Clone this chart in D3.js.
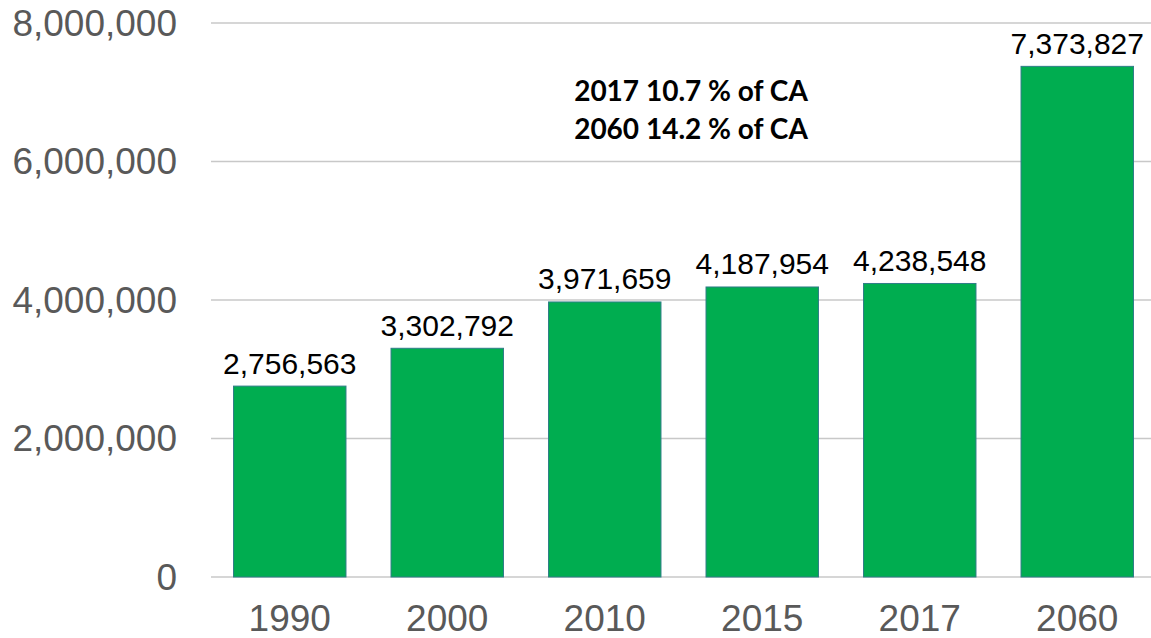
<!DOCTYPE html>
<html>
  <head>
    <meta charset="utf-8">
    <title>Population 1990-2060</title>
    <script src="https://d3js.org/d3.v7.min.js"></script>
    <style>
      body { margin: 0; background: #fff; }
      #chart { display: block; }
      .grid line { stroke: #c8c8c8; stroke-width: 1.5; }
      .yLabel, .xLabel { font-family: "Liberation Sans", Arial, sans-serif; font-size: 37px; fill: #595959; }
      .value { font-family: "Liberation Sans", Arial, sans-serif; font-size: 30px; fill: #000; }
      .note { font-family: Lato, "Open Sans", sans-serif; font-weight: bold; font-size: 28px; fill: #000; }
      .bar { fill: #00ad50; stroke: #2f7d87; stroke-width: 1; }
    </style>
  </head>
  <body>
    <svg id="chart" width="1151" height="638"></svg>
    <script>
      // data
      years = ["1990", "2000", "2010", "2015", "2017", "2060"];
      population = [2756563, 3302792, 3971659, 4187954, 4238548, 7373827];
      yTicks = [0, 2000000, 4000000, 6000000, 8000000];
      notes = ["2017 10.7 % of CA", "2060 14.2 % of CA"];

      width = 1151;
      height = 638;
      svg = d3.select("#chart");

      // scales
      x = d3.scaleBand()
        .domain(years)
        .range([211, 1156])
        .paddingInner(0.286)
        .paddingOuter(0.143);
      y = d3.scaleLinear()
        .domain([0, 8000000])
        .range([577, 23]);

      // gridlines
      grid = svg.append("g")
        .classed("grid", true);
      grid.selectAll("line")
          .data(yTicks)
        .enter().append("line")
          .attr("x1", 211)
          .attr("x2", width)
          .attr("y1", function(d) { return y(d); })
          .attr("y2", function(d) { return y(d); });

      // y axis labels
      svg.selectAll(".yLabel")
          .data(yTicks)
        .enter().append("text")
          .classed("yLabel", true)
          .attr("x", 177)
          .attr("y", function(d) { return y(d); })
          .attr("dy", "0.35em")
          .attr("text-anchor", "end")
          .text(function(d) { return d3.format(",")(d); });

      // bars
      svg.selectAll(".bar")
          .data(population)
        .enter().append("rect")
          .classed("bar", true)
          .attr("x", function(d, i) { return x(years[i]); })
          .attr("width", x.bandwidth())
          .attr("y", function(d) { return y(d); })
          .attr("height", function(d) { return y(0) - y(d); });

      // value labels
      svg.selectAll(".value")
          .data(population)
        .enter().append("text")
          .classed("value", true)
          .attr("x", function(d, i) { return x(years[i]) + x.bandwidth() / 2; })
          .attr("y", function(d) { return y(d) - 12.5; })
          .attr("text-anchor", "middle")
          .text(function(d) { return d3.format(",")(d); });

      // x axis labels
      svg.selectAll(".xLabel")
          .data(years)
        .enter().append("text")
          .classed("xLabel", true)
          .attr("x", function(d) { return x(d) + x.bandwidth() / 2; })
          .attr("y", 631)
          .attr("text-anchor", "middle")
          .text(function(d) { return d; });

      // annotation
      svg.selectAll(".note")
          .data(notes)
        .enter().append("text")
          .classed("note", true)
          .attr("x", 691)
          .attr("y", function(d, i) { return 101 + i * 38; })
          .attr("text-anchor", "middle")
          .text(function(d) { return d; });
    </script>
  </body>
</html>
